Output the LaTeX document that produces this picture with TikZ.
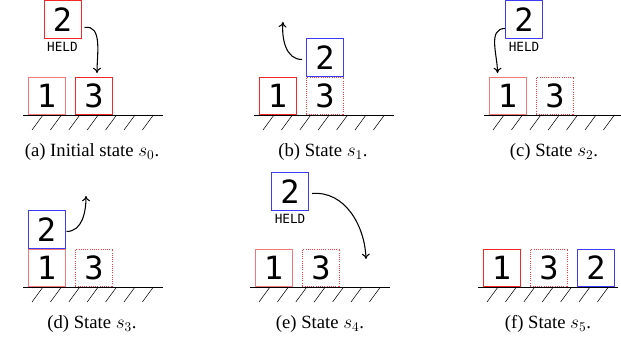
\documentclass[tikz,border=0pt]{standalone}
\usepackage{fontspec}
\setmainfont{Liberation Serif}
\newfontfamily\digitfont{DejaVu Sans Mono}
\usetikzlibrary{arrows.meta,calc}
\definecolor{bred}{RGB}{240,40,40}
\definecolor{lred}{RGB}{245,120,120}
\definecolor{dred}{RGB}{250,60,60}
\definecolor{bblue}{RGB}{60,60,245}
\tikzset{
  blk/.style={draw=bred, line width=0.5pt, minimum size=28pt, inner sep=0pt,
    font=\digitfont\fontsize{24}{24}\selectfont},
  blkl/.style={blk, draw=lred},
  blkb/.style={blk, draw=bblue},
  blkd/.style={blk, draw=dred, dash pattern=on 0.75pt off 0.9pt},
  heldlbl/.style={font=\digitfont\fontsize{9.5}{10}\selectfont, inner sep=0pt},
  captext/.style={font=\fontsize{14}{16}\selectfont, inner sep=0pt},
  mv/.style={-{To[length=4pt,width=6pt]}, line width=0.8pt},
  grd/.style={line width=0.7pt},
  hatch/.style={line width=0.4pt}
}
\newcommand{\groundline}{%
  \draw[grd] (0,0) -- (140,0);
  \foreach \i in {0,...,6} {\draw[hatch] (9+18.4*\i,15) -- (20+18.4*\i,0);}
}
\begin{document}
\begin{tikzpicture}[x=0.75pt,y=-0.75pt]
\useasboundingbox (0,0) rectangle (621,345);
% (a)
\begin{scope}[shift={(23,115)}]
  \groundline
  \node[blkl] (a1) at (23.5,-19) {1};
  \node[blk]  (a3) at (71,-19) {3};
  \node[blk]  (a2) at (39.5,-95.5) {2};
  \node[heldlbl] (ah) at (39.5,-68) {HELD};
  \draw[mv] ($(a2.east)+(3,8)$) to[out=10,in=90] ($(a3.north)+(3,-4)$);
  \node[captext] (acap) at (69,37) {(a) Initial state $s_0$.};
\end{scope}
% (b)
\begin{scope}[shift={(254,115)}]
  \groundline
  \node[blk]  (b1) at (23.5,-19) {1};
  \node[blkd] (b3) at (71,-19) {3};
  \node[blkb] (b2) at (71,-57.5) {2};
  \coordinate (bt) at (29,-93);
  \draw[mv] ($(b2.west)+(-4,2)$) to[out=180,in=-95] (bt);
  \node[captext] (bcap) at (69,37) {(b) State $s_1$.};
\end{scope}
% (c)
\begin{scope}[shift={(484,115)}]
  \groundline
  \node[blkl] (c1) at (23.5,-19) {1};
  \node[blkd] (c3) at (71,-19) {3};
  \node[blkb] (c2) at (40,-95.5) {2};
  \node[heldlbl] (ch) at (40,-68) {HELD};
  \draw[mv] ($(c2.west)+(0,9)$) to[out=180,in=90] ($(c1.north)+(-10,-4)$);
  \node[captext] (ccap) at (70,37) {(c) State $s_2$.};
\end{scope}
% (d)
\begin{scope}[shift={(23,287)}]
  \groundline
  \node[blkl] (d1) at (23.5,-19) {1};
  \node[blkd] (d3) at (71,-19) {3};
  \node[blkb] (d2) at (23.5,-57.5) {2};
  \coordinate (dt) at (63,-91);
  \draw[mv] ($(d2.east)+(1,2)$) to[out=0,in=-90] (dt);
  \node[captext] (dcap) at (69,37) {(d) State $s_3$.};
\end{scope}
% (e)
\begin{scope}[shift={(250,287)}]
  \groundline
  \node[blkl] (e1) at (23.5,-19) {1};
  \node[blkd] (e3) at (71,-19) {3};
  \node[blkb] (e2) at (40,-95.5) {2};
  \node[heldlbl] (eh) at (40,-68) {HELD};
  \coordinate (et) at (116,-28);
  \draw[mv] ($(e2.east)+(3,2)$) to[out=5,in=92] (et);
  \node[captext] (ecap) at (70,37) {(e) State $s_4$.};
\end{scope}
% (f)
\begin{scope}[shift={(478,287)}]
  \groundline
  \node[blk]  (f1) at (23.5,-19) {1};
  \node[blkd] (f3) at (71,-19) {3};
  \node[blkb] (f2) at (118,-19) {2};
  \node[captext] (fcap) at (70,37) {(f) State $s_5$.};
\end{scope}
\end{tikzpicture}
\end{document}
